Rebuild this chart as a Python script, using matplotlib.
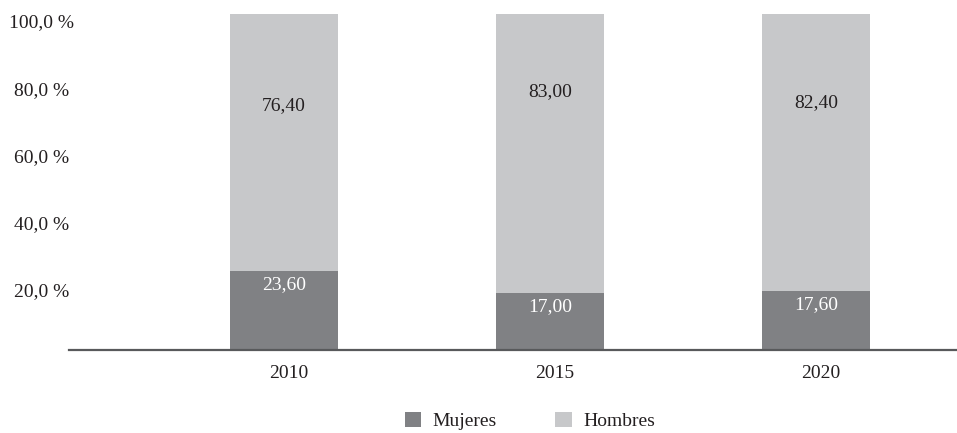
import matplotlib
matplotlib.use("Agg")
import matplotlib.pyplot as plt
import matplotlib.transforms as mtransforms
from matplotlib.patches import Patch

years = ["2010", "2015", "2020"]
mujeres = [23.60, 17.00, 17.60]
hombres = [76.40, 83.00, 82.40]
yticks = [20, 40, 60, 80, 100]
ytick_labels = ["20,0 %", "40,0 %", "60,0 %", "80,0 %", "100,0 %"]

# label placement (positions, not data)
hombres_label_y = [72.6, 76.8, 73.6]
mujeres_label_offset = 4.0

c_m = "#808184"
c_h = "#c7c8ca"
c_axis = "#58595b"
txt = "#231f20"

plt.rcParams['font.family'] = ['Liberation Serif', 'DejaVu Serif']

fig = plt.figure(figsize=(9.57, 4.33), dpi=100)
ax = fig.add_axes([69/957, (433-350)/433, 1 - 69/957, (350-14)/433])

x = list(range(len(years)))
w = 0.406
ax.bar(x, mujeres, width=w, color=c_m, linewidth=0)
ax.bar(x, hombres, width=w, bottom=mujeres, color=c_h, linewidth=0)

fs = 14
for i in x:
    ax.text(i, mujeres[i] - mujeres_label_offset, f"{mujeres[i]:.2f}".replace(".", ","),
            ha="center", va="center", color="white", fontsize=fs)
    ax.text(i, hombres_label_y[i], f"{hombres[i]:.2f}".replace(".", ","),
            ha="center", va="center", color=txt, fontsize=fs)

ax.set_xlim(-0.808, 2.53)
ax.set_ylim(0, 100)
ax.set_xticks(x)
ax.set_xticklabels(years, fontsize=fs, color=txt)
ax.set_yticks(yticks)
ax.set_yticklabels(ytick_labels, fontsize=fs, color=txt)
ax.tick_params(axis="both", length=0)
ax.tick_params(axis="x", pad=11)
ax.tick_params(axis="y", pad=20)
for lab in ax.get_yticklabels():
    lab.set_horizontalalignment("center")
    lab.set_transform(lab.get_transform() + mtransforms.ScaledTranslation(0, -7/100, fig.dpi_scale_trans))
for lab in ax.get_xticklabels():
    lab.set_transform(lab.get_transform() + mtransforms.ScaledTranslation(5/100, 0, fig.dpi_scale_trans))

for s in ["top", "right", "left"]:
    ax.spines[s].set_visible(False)
ax.spines["bottom"].set_color(c_axis)
ax.spines["bottom"].set_linewidth(1.6)

handles = [Patch(facecolor=c_m, edgecolor="none", label="Mujeres"),
           Patch(facecolor=c_h, edgecolor="none", label="Hombres")]
leg = fig.legend(handles=handles, loc="center", ncol=2, frameon=False,
                 bbox_to_anchor=(530/957, 1 - 421/433), fontsize=fs,
                 handlelength=0.85, handleheight=0.85, handletextpad=0.6,
                 columnspacing=3.0)
for t in leg.get_texts():
    t.set_color(txt)

fig.savefig("out.png", dpi=100)
